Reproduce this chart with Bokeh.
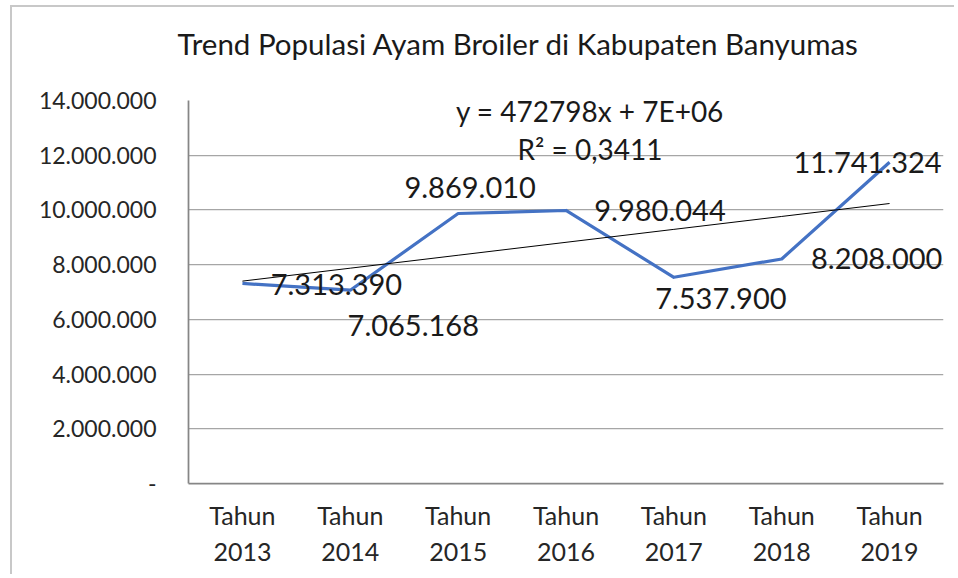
import numpy as np
from bokeh.plotting import figure
from bokeh.models import FactorRange, Range1d, FixedTicker, Label, LabelSet, ColumnDataSource, Title
from bokeh.core.properties import value
from bokeh.embed import file_html
from bokeh.resources import INLINE

# ---- data ----
years = ["2013", "2014", "2015", "2016", "2017", "2018", "2019"]
prefix = "Tahun"
categories = [(y, prefix) for y in years]
populasi = [7313390, 7065168, 9869010, 9980044, 7537900, 8208000, 11741324]
y_ticks = [0, 2000000, 4000000, 6000000, 8000000, 10000000, 12000000, 14000000]
title_text = "Trend Populasi Ayam Broiler di Kabupaten Banyumas"

# label placement (screen px, right / up) - layout only
label_dx = [94, 63, 12, 94, 47, 95, -22]
label_dy = [-1, -35, 26, 0, -21, 0, 0]


def fmt_id(v):
    return f"{int(round(v)):,}".replace(",", ".")


# linear trend (x = 1..n)
xs = np.arange(1, len(populasi) + 1)
slope, intercept = np.polyfit(xs, populasi, 1)
fit = slope * xs + intercept
resid = np.array(populasi) - fit
r2 = 1 - np.sum(resid ** 2) / np.sum((np.array(populasi) - np.mean(populasi)) ** 2)
eq_text = f"y = {int(round(slope))}x + {intercept:.0E}"
r2_text = ("R² = " + f"{r2:.4f}").replace(".", ",")

FONT = "Lato"

p = figure(
    x_range=FactorRange(*categories, range_padding=0, group_padding=0, factor_padding=0,
                        subgroup_padding=0),
    y_range=Range1d(0, 14000000),
    width=944, height=569,
    min_border_left=176, min_border_right=13, min_border_top=93, min_border_bottom=93,
    output_backend="svg", toolbar_location=None,
)
p.styles = {"margin-left": "10px", "margin-top": "5px",
            "border-left": "2px solid #c8c8c8", "border-top": "2px solid #c8c8c8"}
p.outline_line_color = None
p.background_fill_color = "white"
p.border_fill_color = "white"

# spacer panel (closest to the frame), then the chart title above it
p.add_layout(Title(text=" ", text_font_size="10px", standoff=22), "above")
p.add_layout(Title(text=title_text, text_font=FONT, text_font_size="29.5px",
                   text_font_style="normal", text_color="#1a1a1a",
                   align="left", offset=-11, vertical_align="bottom", standoff=10), "above")

# axes
p.yaxis.ticker = FixedTicker(ticks=y_ticks)
p.yaxis.major_label_overrides = {t: ("-" if t == 0 else fmt_id(t)) for t in y_ticks}
for ax in (p.xaxis[0], p.yaxis[0]):
    ax.major_tick_line_color = None
    ax.minor_tick_line_color = None
    ax.axis_line_color = "#868686"
    ax.axis_line_width = 1.75
    ax.major_label_text_font = FONT
    ax.major_label_text_font_size = "23px"
    ax.major_label_text_color = "#262626"
p.yaxis.major_label_standoff = 26
p.xaxis.major_label_standoff = 10
xa = p.xaxis[0]
xa.major_label_text_font_size = "25px"
xa.group_text_font = FONT
xa.group_text_font_size = "25px"
xa.group_text_font_style = "normal"
xa.group_text_color = "#262626"
xa.separator_line_color = None
xa.major_label_orientation = "horizontal"
p.xgrid.visible = False
p.ygrid.grid_line_color = "#a6a6a6"
p.ygrid.grid_line_width = 1.25

# series
p.line(categories, populasi, line_color="#4472C4", line_width=3.2, line_join="round")
# trendline
p.line(categories, list(fit), line_color="black", line_width=1)

# data labels
src = ColumnDataSource(dict(
    x=categories, y=populasi, text=[fmt_id(v) for v in populasi],
    dx=label_dx, dy=label_dy,
))
p.add_layout(LabelSet(x="x", y="y", text="text", source=src, x_offset="dx", y_offset="dy",
                      text_font=value(FONT), text_font_size=value("29px"),
                      text_color="#1a1a1a",
                      text_align="center", text_baseline="middle"))

# trend equation
p.add_layout(Label(x=3.5, y=14000000, x_offset=24, y_offset=-10, text=eq_text,
                   text_font=FONT, text_font_size="28px", text_color="#1a1a1a",
                   text_align="center", text_baseline="middle"))
p.add_layout(Label(x=3.5, y=14000000, x_offset=24, y_offset=-48, text=r2_text,
                   text_font=FONT, text_font_size="28px", text_color="#1a1a1a",
                   text_align="center", text_baseline="middle"))

open("out.html", "w").write(file_html(p, INLINE))
